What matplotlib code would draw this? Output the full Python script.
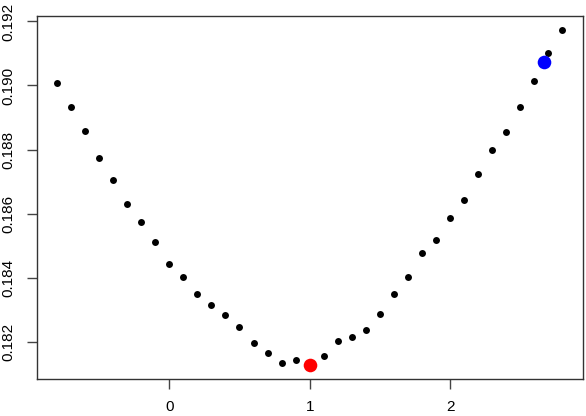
import matplotlib
matplotlib.use('Agg')
import matplotlib.pyplot as plt
import numpy as np

plt.rcParams['font.family'] = ['Liberation Sans', 'DejaVu Sans']

# values
x_vals = [-0.8, -0.7, -0.6, -0.5, -0.4, -0.3, -0.2, -0.1, 0.0, 0.1,
          0.2, 0.3, 0.4, 0.5, 0.6, 0.7, 0.8, 0.9, 1.0, 1.1,
          1.2, 1.3, 1.4, 1.5, 1.6, 1.7, 1.8, 1.9, 2.0, 2.1,
          2.2, 2.3, 2.4, 2.5, 2.6, 2.7, 2.8]
y_vals = [0.19007, 0.18934, 0.18857, 0.18774, 0.18705, 0.18629, 0.18575, 0.18512, 0.18441, 0.18403,
          0.18350, 0.18314, 0.18282, 0.18244, 0.18194, 0.18163, 0.18132, 0.18142, 0.18128, 0.18155,
          0.18202, 0.18214, 0.18237, 0.18285, 0.18350, 0.18403, 0.18477, 0.18516, 0.18586, 0.18643,
          0.18724, 0.18797, 0.18856, 0.18934, 0.19015, 0.19102, 0.19173]
min_x, min_y = 1.0, 0.18128
end_x, end_y = 2.671, 0.19072

x_ticks = [0, 1, 2]
y_ticks = [0.182, 0.184, 0.186, 0.188, 0.190, 0.192]

fig = plt.figure(figsize=(5.86, 4.16), dpi=100)
ax = fig.add_axes([0.0626, 0.0889, 0.9318, 0.8726])

ax.plot(x_vals, y_vals, 'o', color='black', markersize=5, markeredgewidth=0)
ax.plot([min_x], [min_y], 'o', color='#ff0000', markersize=9.8, markeredgewidth=0)
ax.plot([end_x], [end_y], 'o', color='#0000ff', markersize=9.8, markeredgewidth=0)

ax.set_xlim(-0.944, 2.944)
ax.set_ylim(0.18083, 0.19217)
ax.set_xticks(x_ticks)
ax.set_xticklabels([str(t) for t in x_ticks])
ax.set_yticks(y_ticks)
ax.set_yticklabels(['%.3f' % t for t in y_ticks], rotation=90, va='center')
ax.tick_params(axis='both', length=7, width=1, color='#444444', labelsize=11, pad=8)
for s in ax.spines.values():
    s.set_color('#333333')
    s.set_linewidth(1)

fig.savefig('out.png', dpi=100)
